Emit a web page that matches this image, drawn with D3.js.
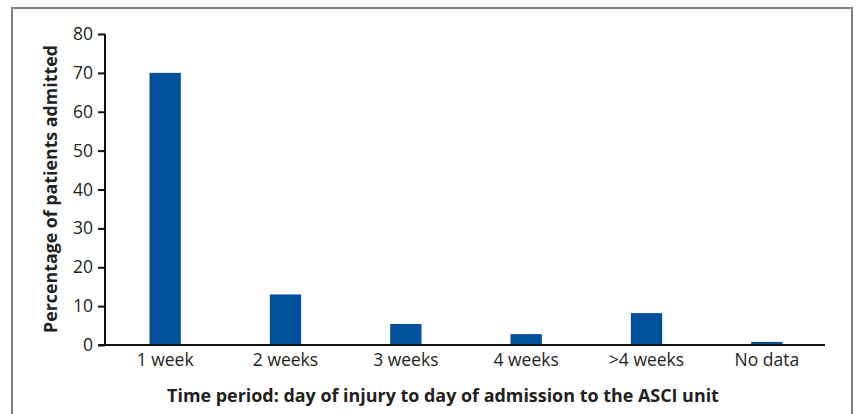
<!DOCTYPE html>
<html><head><meta charset="utf-8">
<script src="https://cdn.jsdelivr.net/npm/d3@7"></script>
<style>body{margin:0;background:#fff;} svg{display:block;}</style>
</head><body>
<svg id="c" width="856" height="414"></svg>
<script>
const categories = ["1 week","2 weeks","3 weeks","4 weeks",">4 weeks","No data"];
const values = [70, 13, 5.4, 2.8, 8.2, 0.8];
const yTicks = [0,10,20,30,40,50,60,70,80];
const xTitle = "Time period: day of injury to day of admission to the ASCI unit";
const yTitle = "Percentage of patients admitted";

const svg = d3.select("#c");
const font = "'Open Sans', 'Noto Sans', sans-serif";

// frame
svg.append("rect").attr("x",12).attr("y",8).attr("width",840).attr("height",420)
  .attr("fill","none").attr("stroke","#808080").attr("stroke-width",2);

const x = d3.scaleBand().domain(categories).range([105,827]).paddingInner(0.74).paddingOuter(0.37);
const y = d3.scaleLinear().domain([0,80]).range([345,34]);

// bars
svg.selectAll("rect.bar").data(values).enter().append("rect").attr("class","bar")
  .attr("x",(d,i)=>x(categories[i])).attr("width",x.bandwidth())
  .attr("y",d=>y(d)).attr("height",d=>y(0)-y(d)).attr("fill","#00509b");

// y axis
const ya = svg.append("g").attr("transform","translate(105,0)")
  .call(d3.axisLeft(y).tickValues(yTicks).tickSize(7).tickPadding(5));
ya.select(".domain").attr("d","M0,34V345").attr("stroke","#111").attr("stroke-width",2);
ya.selectAll(".tick line").attr("stroke","#111").attr("stroke-width",2);
ya.selectAll(".tick text").attr("font-family",font).attr("font-size",17.5).attr("fill","#231f20");

// x axis
const xa = svg.append("g").attr("transform","translate(0,345)")
  .call(d3.axisBottom(x).tickSize(0).tickPadding(9));
xa.select(".domain").attr("d","M98,0H825").attr("stroke","#111").attr("stroke-width",2);
xa.selectAll(".tick text").attr("font-family",font).attr("font-size",17.5).attr("fill","#231f20");

function fit(t, target){
  const w = t.node().getComputedTextLength();
  const fs = +t.attr("font-size");
  t.attr("font-size", fs*target/w);
}
const xt = svg.append("text").attr("x",443).attr("y",401.5).attr("text-anchor","middle")
  .attr("font-family",font).attr("font-weight","bold").attr("font-size",17).attr("fill","#231f20")
  .text(xTitle);
fit(xt, 552);
const yt = svg.append("text").attr("transform","translate(57,189) rotate(-90)").attr("text-anchor","middle")
  .attr("font-family",font).attr("font-weight","bold").attr("font-size",16).attr("fill","#231f20")
  .text(yTitle);
fit(yt, 288);
</script>
</body></html>
